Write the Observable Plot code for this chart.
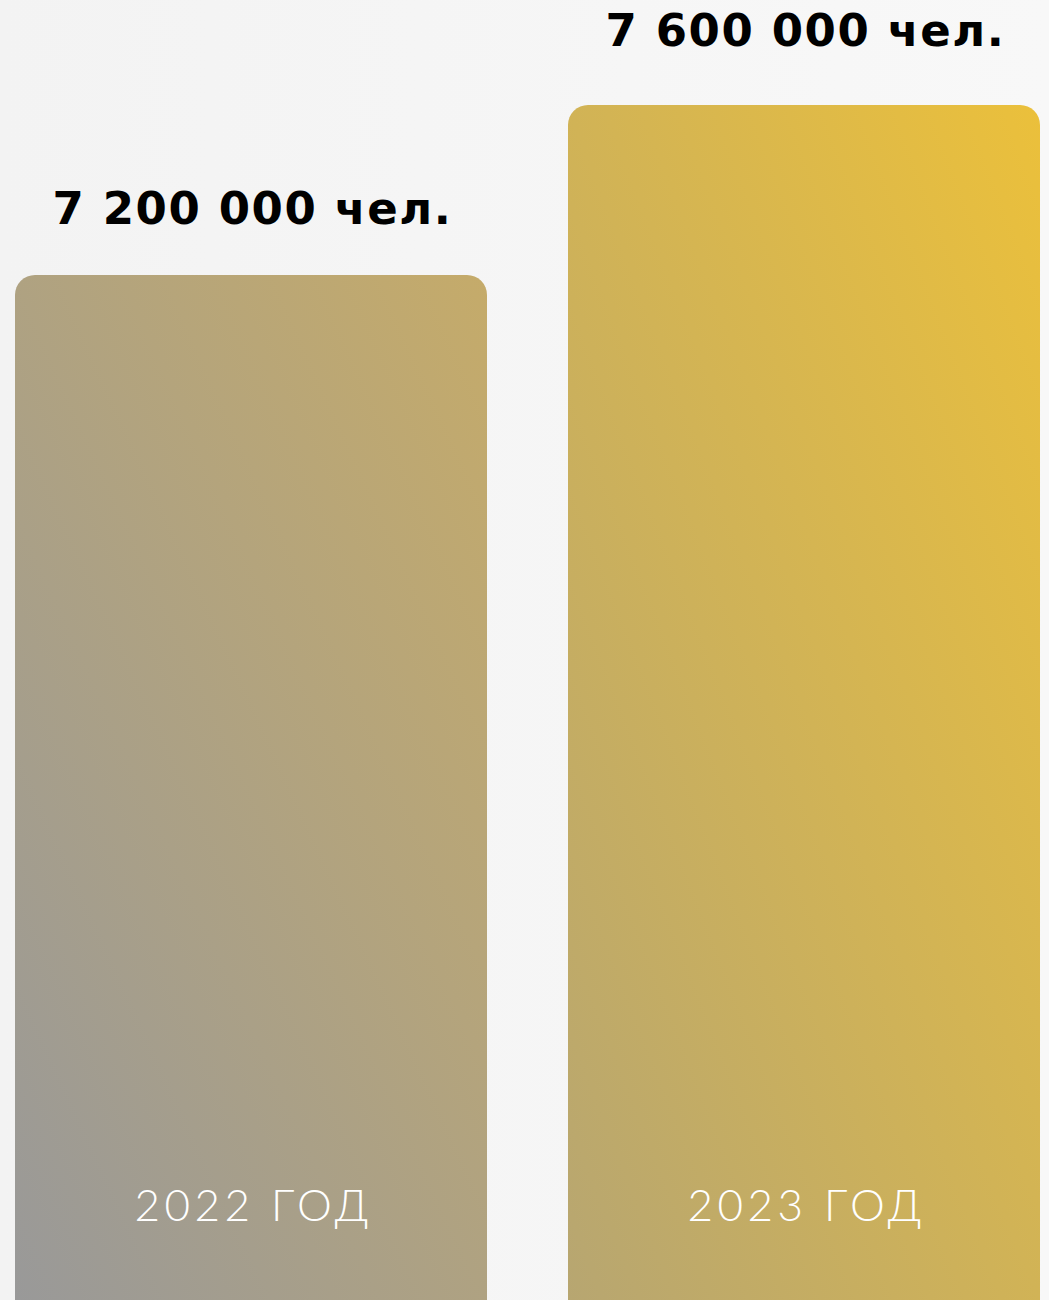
<!DOCTYPE html>
<html>
<head>
<meta charset="utf-8">
<script src="https://cdn.jsdelivr.net/npm/d3@7"></script>
<script src="https://cdn.jsdelivr.net/npm/@observablehq/plot@0.6"></script>
<style>
  html, body { margin: 0; padding: 0; overflow: hidden; }
  body { width: 1049px; height: 1300px; background: linear-gradient(to right, #f3f3f3, #f8f8f8); }
  #chart svg { display: block; background: transparent; }
</style>
</head>
<body>
<div id="chart"></div>
<script>
const years = ["2022 ГОД", "2023 ГОД"];
const values = [7200000, 7600000];
const unit = "чел.";
const gradientIds = ["g2022", "g2023"];
const gradientStops = [["#999999", "#c5ab6a"], ["#b7a671", "#ebc03b"]];
const labelOffsets = [-52, -60];

const data = years.map((year, i) => ({year, value: values[i], grad: gradientIds[i]}));
const fmt = v => d3.format(",")(v).replace(/,/g, " ") + " " + unit;

const marks = data.map(d => Plot.rectY([d], {
  x: "year", y1: 0, y2: "value", fill: `url(#${d.grad})`, rx: 20, clip: true
}));

const valueLabels = data.map((d, i) => Plot.text([d], {
  x: "year", y: "value", text: d => fmt(d.value), dy: labelOffsets[i], dx: 1, lineAnchor: "bottom",
  fontSize: 45, fontWeight: "bold", fontFamily: "'DejaVu Sans', sans-serif", fill: "#000",
  className: "vlabel"
}));

const chart = Plot.plot({
  width: 1049,
  height: 1300,
  marginTop: 0, marginBottom: 0, marginLeft: 15, marginRight: 8,
  style: {background: "transparent", overflow: "hidden"},
  x: {domain: years, paddingInner: 0.1463, paddingOuter: 0, axis: null},
  y: {domain: [4788235, 7847059], axis: null},
  marks: [
    ...marks,
    ...valueLabels,
    Plot.text(data, {
      x: "year", frameAnchor: "bottom", text: "year", dy: -80, dx: 2, lineAnchor: "bottom",
      fontSize: 44, fontWeight: 300, fontFamily: "Lato, 'Noto Sans', sans-serif", fill: "#ffffff",
      className: "ylabel"
    })
  ]
});

const svg = d3.select(chart);
svg.selectAll("g[aria-label='text']").each(function(_, i) {
  d3.select(this).style("letter-spacing", i < 2 ? "1.6px" : "4.5px");
});

// gradients spanning each bar's visible box, "to top right" style
const xs = chart.scale("x"), ys = chart.scale("y");
const defs = svg.insert("defs", ":first-child");
data.forEach((d, i) => {
  const x0 = xs.apply(d.year), w = xs.bandwidth;
  const yTop = ys.apply(d.value), h = 1300 - yTop;
  const cx = x0 + w / 2, cy = yTop + h / 2;
  const D = Math.hypot(w, h);
  const ux = h / D, uy = -w / D, L = w * h / D;
  const g = defs.append("linearGradient").attr("id", d.grad)
    .attr("gradientUnits", "userSpaceOnUse")
    .attr("x1", cx - ux * L).attr("y1", cy - uy * L)
    .attr("x2", cx + ux * L).attr("y2", cy + uy * L);
  g.append("stop").attr("offset", "0%").attr("stop-color", gradientStops[i][0]);
  g.append("stop").attr("offset", "100%").attr("stop-color", gradientStops[i][1]);
});
document.getElementById("chart").appendChild(chart);
</script>
</body>
</html>
